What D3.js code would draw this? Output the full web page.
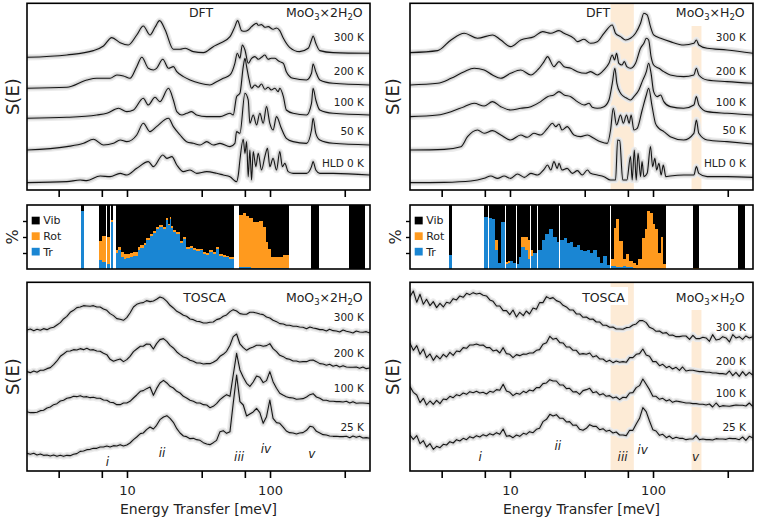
<!DOCTYPE html>
<html>
<head>
<meta charset="utf-8">
<script src="https://cdn.jsdelivr.net/npm/d3@7"></script>
<style>
  body { margin: 0; background: #fff; }
  text { font-family: "DejaVu Sans", Verdana, sans-serif; }
</style>
</head>
<body>
<svg id="chart" width="757" height="521"></svg>
<script>
// ---- data (energies in meV, intensities in arbitrary stacked units) ----
const energyDomain = [2, 500];
const energyTicks = [3.33, 6.67, 10, 33.3, 66.7, 100, 333];
const dftLabels = ["300 K", "200 K", "100 K", "50 K", "HLD 0 K"];
const toscaLabels = ["300 K", "200 K", "100 K", "25 K"];
const romanLabels = ["i", "ii", "iii", "iv", "v"];
const romanDi = [7.3, 17.6, 60.8, 93.7, 196];
const romanMono = [6.2, 21.6, 61.3, 84.5, 198];
const monoBands = [[50.5, 73.4], [186, 218]];

// DFT, MoO3 x 2H2O
const dftDi300 = [[2.00,398],[3.80,405],[5.83,418],[6.85,432],[7.83,457],[8.96,442],[10.2,435],[11.7,465],[13.0,492],[14.5,465],[15.7,488],[16.9,508],[18.5,480],[21.1,422],[23.5,422],[25.5,425],[29.1,415],[34.2,412],[40.1,430],[44.7,440],[52.5,460],[56.8,490],[59.3,508],[63.3,478],[66.8,476],[70.4,480],[74.3,490],[78.4,498],[80.5,500],[82.7,494],[87.2,496],[92.0,488],[97.1,490],[105,482],[111,486],[117,478],[124,455],[137,428],[161,415],[185,425],[195,450],[200,462],[209,440],[223,418],[276,412],[497,410]];
const dftDi200 = [[2.00,305],[3.80,308],[5.24,330],[6.15,335],[7.62,335],[8.49,345],[9.45,342],[10.5,335],[11.7,370],[12.7,398],[14.1,365],[15.3,360],[16.1,365],[17.8,392],[19.5,365],[21.1,370],[22.3,355],[24.8,340],[27.6,330],[32.4,320],[38.0,315],[42.3,325],[47.1,335],[52.5,345],[56.8,380],[59.0,410],[61.6,395],[64.0,435],[66.8,420],[70.4,380],[74.3,395],[78.4,400],[82.7,392],[87.2,398],[92.0,405],[97.1,392],[102,395],[108,395],[114,388],[117,385],[124,380],[130,355],[145,335],[180,330],[195,350],[200,378],[209,355],[223,330],[276,320],[497,315]];
const dftDi100 = [[2.00,215],[3.80,218],[6.15,225],[7.23,230],[8.73,245],[9.97,235],[11.1,240],[13.0,275],[14.1,255],[15.7,278],[17.0,265],[19.5,305],[21.1,270],[22.3,235],[24.2,225],[26.1,230],[28.3,235],[30.7,225],[36.1,220],[44.7,220],[52.5,230],[55.3,225],[58.4,280],[61.6,290],[65.0,370],[66.8,395],[68.6,370],[71.5,330],[74.3,305],[78.4,315],[82.7,308],[87.2,318],[92.0,302],[97.1,308],[102,300],[108,305],[114,295],[117,305],[124,280],[130,240],[145,230],[180,225],[195,260],[200,305],[209,270],[223,240],[276,230],[497,225]];
const dftDi50 = [[2.00,120],[3.80,130],[4.97,140],[5.83,152],[6.85,135],[8.05,140],[8.96,150],[9.97,145],[11.7,165],[13.0,200],[14.5,175],[16.1,190],[19.5,215],[21.1,190],[23.5,165],[26.1,145],[29.1,140],[32.4,135],[36.1,145],[40.1,135],[44.7,140],[52.5,130],[56.8,140],[58.4,175],[61.6,170],[66.8,290],[70.4,270],[72.3,200],[76.3,225],[80.5,195],[84.9,230],[89.6,200],[94.5,250],[99.7,200],[105,180],[111,220],[120,185],[130,155],[145,145],[180,140],[195,180],[200,215],[209,170],[223,150],[276,140],[497,135]];
const dftDiHLD = [[2.00,22],[3.80,25],[4.71,30],[5.24,28],[6.49,42],[7.62,40],[8.96,50],[9.97,45],[11.7,65],[14.1,85],[15.3,70],[17.8,105],[19.0,95],[20.6,100],[22.3,75],[24.8,55],[27.6,60],[30.7,50],[36.1,55],[42.3,50],[47.1,45],[52.5,40],[58.4,25],[60.0,45],[61.6,90],[65.0,152],[66.8,110],[68.6,145],[70.4,40],[72.3,120],[74.3,30],[76.3,115],[79.6,70],[82.7,110],[87.2,60],[92.0,100],[96.0,125],[99.7,70],[105,95],[111,60],[117,115],[122,70],[127,80],[134,55],[145,50],[180,50],[195,70],[200,85],[209,60],[223,50],[276,50],[497,45]];

// DFT, MoO3 x H2O
const dftMono300 = [[2.00,412],[3.12,418],[3.87,450],[4.79,470],[5.93,455],[7.55,465],[8.63,450],[10.1,430],[11.9,450],[14.7,460],[16.9,475],[19.3,470],[22.0,478],[23.9,470],[28.0,455],[29.6,445],[32.9,452],[36.6,440],[40.8,445],[45.4,470],[51.9,495],[54.7,470],[59.3,460],[64.3,450],[69.6,455],[75.5,470],[81.8,500],[86.3,530],[91.0,525],[96.0,490],[101,465],[113,455],[132,445],[164,435],[193,440],[201,450],[209,435],[239,425],[329,420],[500,410]];
const dftMono200 = [[2.00,315],[3.12,320],[3.87,335],[4.79,355],[5.62,365],[6.60,360],[7.55,345],[8.63,335],[10.1,350],[11.9,360],[14.0,345],[15.6,360],[17.3,385],[18.3,400],[20.3,370],[22.0,385],[23.9,370],[26.6,365],[29.6,355],[33.8,350],[36.6,355],[40.8,345],[45.4,360],[49.2,380],[51.9,405],[53.9,390],[55.6,410],[57.7,380],[60.7,375],[63.0,385],[65.6,370],[69.6,365],[75.5,380],[81.8,425],[86.3,440],[89.8,455],[93.2,450],[96.9,400],[101,375],[110,365],[119,355],[132,345],[164,340],[193,345],[201,365],[209,345],[239,330],[329,325],[500,320]];
const dftMono100 = [[2.00,220],[3.12,225],[3.87,235],[4.79,250],[5.62,260],[6.60,252],[7.55,265],[8.63,250],[10.1,240],[11.9,245],[14.0,250],[16.4,265],[18.3,280],[20.3,285],[22.0,295],[23.9,285],[26.6,280],[29.6,265],[32.9,255],[35.7,260],[37.6,248],[40.8,245],[45.4,250],[49.2,270],[51.9,320],[54.1,365],[55.9,320],[59.3,290],[62.7,280],[65.6,275],[69.6,270],[73.5,280],[79.6,300],[84.0,325],[89.8,355],[93.2,380],[96.9,350],[101,295],[107,280],[113,285],[119,265],[132,250],[164,245],[193,255],[201,280],[209,255],[239,235],[329,230],[500,225]];
const dftMono50 = [[2.00,120],[3.47,122],[4.54,130],[5.05,160],[5.93,180],[6.60,170],[7.55,178],[8.63,165],[10.1,150],[11.9,165],[13.2,158],[14.7,170],[16.4,165],[18.3,185],[19.8,200],[20.9,190],[22.0,198],[23.1,180],[25.1,190],[28.0,165],[31.2,160],[34.8,165],[38.6,155],[43.0,145],[47.9,140],[50.5,180],[52.7,245],[55.6,195],[59.3,225],[62.0,200],[65.3,225],[68.1,200],[70.3,225],[73.5,180],[77.5,185],[84.0,240],[89.8,285],[93.2,305],[98.6,250],[104,200],[110,185],[119,175],[132,160],[164,150],[193,170],[201,210],[209,170],[239,150],[329,145],[500,138]];
const dftMonoHLD = [[2.00,22],[3.47,23],[5.33,27],[6.60,35],[7.35,42],[8.18,35],[9.10,42],[10.1,35],[11.3,48],[12.6,38],[14.0,50],[15.6,45],[17.3,62],[18.3,75],[19.3,60],[20.3,85],[21.4,65],[22.0,80],[23.1,60],[25.1,65],[27.3,50],[29.6,58],[32.0,45],[34.8,60],[36.6,50],[40.8,45],[45.4,40],[50.5,30],[54.7,30],[56.6,150],[58.5,148],[61.4,30],[65.6,30],[69.6,100],[71.5,30],[74.0,120],[76.3,30],[78.6,110],[81.8,40],[83.8,85],[86.4,40],[91.0,50],[96.0,130],[99.4,70],[103,95],[106,60],[110,80],[114,45],[118,75],[123,40],[132,42],[164,45],[193,45],[201,70],[209,50],[239,40],[329,40],[500,38]];

// TOSCA energy grid and measured spectra
const toscaEnergy = [2.00,2.11,2.23,2.35,2.48,2.61,2.76,2.91,3.07,3.24,3.42,3.60,3.80,4.01,4.23,4.46,4.71,4.97,5.24,5.53,5.83,6.15,6.49,6.85,7.23,7.62,8.05,8.49,8.96,9.45,9.97,10.5,11.1,11.7,12.4,13.0,13.7,14.5,15.3,16.1,17.0,18.0,19.0,20.0,21.1,22.3,23.5,24.8,26.1,27.6,29.1,30.7,32.4,34.2,36.1,38.0,40.1,42.3,44.7,47.1,49.7,52.5,55.3,58.4,61.6,65.0,68.6,72.3,76.3,80.5,84.9,89.6,94.5,99.7,105,111,117,124,130,137,145,153,161,170,180,190,200,211,223,235,248,261,276,291,307,324,342,361,380,401,423,446,471,497];

const toscaDi300 = [423,426,421,425,422,427,424,429,431,438,445,456,464,476,482,490,492,496,495,494,496,492,492,486,482,472,466,457,455,452,460,474,492,500,504,505,511,508,510,515,522,518,509,497,489,479,474,467,464,456,454,449,448,444,444,446,447,454,457,464,468,478,484,480,472,470,470,476,476,474,471,469,462,459,452,448,442,441,437,437,434,434,432,431,427,432,429,427,424,424,420,425,421,420,417,423,419,417,414,420,417,416,418,414];
const toscaDi200 = [298,295,300,296,302,302,307,310,319,330,344,351,359,360,364,363,367,364,368,363,364,360,359,353,349,335,329,333,336,328,334,344,358,366,374,374,381,380,366,382,394,397,389,377,369,357,349,342,339,332,329,324,324,321,322,322,326,332,344,350,359,377,403,411,381,370,362,368,372,377,377,374,376,382,367,358,347,343,337,335,330,330,327,328,328,332,333,328,322,321,317,320,314,317,312,316,312,311,311,312,308,312,307,309];
const toscaDi100 = [178,175,175,176,181,182,189,192,199,202,210,212,218,220,224,223,226,222,223,220,221,218,218,213,212,206,205,199,199,204,204,209,219,228,239,241,247,252,227,247,264,272,264,254,249,239,234,224,219,212,209,204,204,199,198,190,194,202,214,222,229,224,288,353,303,281,263,254,267,285,281,265,271,298,268,248,233,227,223,220,219,215,216,217,222,229,232,222,218,212,212,209,209,208,208,207,209,204,208,203,204,204,203,202];
const toscaDi25 = [53,50,53,48,51,47,48,45,48,44,47,44,47,46,50,52,59,60,64,65,68,68,72,72,75,72,76,75,79,75,78,84,94,102,112,114,124,132,126,137,154,162,166,158,146,127,114,105,103,97,98,94,92,85,81,79,85,92,118,121,113,118,203,288,208,198,165,171,177,188,175,143,163,213,158,145,143,131,120,115,114,111,114,115,122,134,132,119,114,109,108,105,104,104,103,103,104,100,105,101,104,99,100,98];

const toscaMono300 = [523,540,506,530,500,515,496,508,490,503,492,506,503,517,513,525,521,533,529,535,531,533,527,525,513,509,495,495,481,481,469,483,462,476,466,480,471,489,485,505,505,523,517,520,511,507,497,492,483,483,471,471,461,462,455,456,447,447,437,437,431,432,426,426,425,430,431,438,441,451,451,445,431,427,419,420,413,415,407,408,403,403,405,405,395,407,397,397,401,399,389,409,393,395,403,399,387,409,399,403,395,405,399,403];
const toscaMono200 = [383,362,376,350,366,340,351,332,346,336,350,342,356,347,360,358,370,368,378,378,381,377,378,370,370,360,363,354,370,352,350,340,349,346,351,350,354,354,362,364,380,385,404,395,398,385,384,372,372,362,362,350,352,350,354,342,346,336,336,328,332,325,330,326,328,326,340,340,350,352,366,348,344,328,328,316,320,310,314,306,311,302,312,300,302,302,300,298,298,296,296,294,294,292,292,290,300,286,296,284,298,286,296,288];
const toscaMono100 = [253,236,228,205,218,198,210,200,212,202,216,214,224,220,229,226,234,230,238,235,239,234,236,231,239,236,244,242,260,240,236,226,233,230,239,235,243,240,250,250,262,264,274,270,270,258,258,247,248,237,238,230,241,244,248,235,238,228,232,224,226,219,222,214,221,220,234,235,250,256,276,260,244,224,224,215,218,210,214,206,210,208,206,204,204,202,202,200,200,198,201,192,204,193,196,195,194,196,198,197,197,195,204,194];
const toscaMono25 = [108,95,106,82,91,72,82,65,74,70,80,78,88,84,94,90,98,94,103,99,106,102,109,105,112,108,115,110,126,104,106,100,108,104,113,110,118,115,125,128,148,155,170,165,169,158,158,147,148,137,138,125,122,128,139,134,134,124,127,119,122,114,117,108,108,106,122,122,141,158,190,178,150,124,120,107,110,100,105,97,101,98,98,94,96,96,106,94,96,94,94,93,97,96,96,95,98,97,97,94,102,92,104,100];

// mode character per energy bin: [E from, E to, translational %, rotational %]
const modesDi = [[4.79,4.94,90,0],[6.42,6.63,14,30],[6.78,7.08,11,40],[7.30,7.54,8,42],[7.74,7.96,74,2],[8.40,8.77,25,5],[8.77,9.20,30,5],[9.20,9.55,18,8],[9.55,9.97,16,8],[9.97,10.5,17,7],[10.5,11.1,19,6],[11.1,11.9,21,6],[12.1,12.4,30,5],[12.4,13.0,33,4],[13.2,13.7,37,4],[13.7,14.5,45,3],[14.5,15.3,52,3],[15.3,16.1,56,3],[16.1,17.0,62,3],[17.0,18.0,65,3],[18.0,19.0,63,3],[19.0,19.5,76,3],[19.5,20.0,68,3],[20.0,20.6,78,3],[20.6,21.1,64,3],[21.1,22.3,58,3],[22.3,23.5,55,3],[23.5,24.8,40,3],[24.8,26.1,47,3],[26.1,27.6,32,3],[27.6,29.1,33,3],[29.1,30.7,30,3],[30.7,32.4,28,3],[32.4,34.2,29,3],[34.2,36.1,24,3],[36.1,38.0,22,3],[38.0,40.1,27,3],[40.1,42.3,24,3],[42.3,44.7,32,3],[44.7,47.1,21,3],[47.1,49.7,19,3],[49.7,52.5,18,3],[52.5,55.3,16,3],[61.6,65.0,3,81],[65.0,68.6,3,84],[68.6,72.3,3,80],[72.3,74.0,3,77],[74.5,76.3,2,77],[76.3,80.5,2,72],[80.5,84.9,2,72],[84.9,89.6,2,73],[89.6,94.5,2,63],[94.5,97.1,2,40],[97.1,102,2,30],[102,111,2,16],[111,124,2,16],[124,134,2,20],[195,217,0,0],[361,458,0,0]];
const modesMono = [[3.76,3.90,22,0],[6.60,6.96,82,0],[7.19,7.46,80,0],[7.58,7.83,78,0],[7.96,8.27,30,15],[8.27,8.63,10,0],[8.77,9.20,74,0],[9.40,9.70,8,3],[9.70,10.0,10,2],[10.1,10.4,12,0],[10.6,10.9,10,0],[11.2,11.4,8,0],[11.6,11.9,18,0],[12.0,12.6,35,15],[12.8,13.2,30,20],[13.4,13.8,15,30],[14.1,14.6,20,10],[14.7,15.4,25,0],[15.7,16.6,30,0],[17.0,17.8,45,0],[17.8,18.8,55,0],[18.8,19.8,62,0],[20.1,21.5,50,0],[21.5,22.0,42,0],[22.4,23.9,45,0],[23.9,25.1,48,0],[25.1,26.6,40,0],[26.6,28.0,42,0],[28.0,29.6,35,0],[29.6,31.2,38,0],[31.2,32.9,30,0],[32.9,34.8,28,0],[34.8,36.6,30,0],[36.6,38.6,25,0],[38.6,40.8,30,0],[40.8,43.0,18,0],[43.0,45.4,10,0],[45.4,47.9,20,0],[47.9,49.7,6,0],[51.4,53.9,5,10],[53.9,55.9,4,60],[55.9,58.7,3,75],[58.7,61.0,3,40],[61.9,64.3,4,12],[65.3,67.9,3,20],[69.0,71.5,3,10],[72.7,75.5,2,8],[76.7,79.6,0,6],[79.6,84.0,0,15],[84.0,88.6,0,48],[88.6,92.0,0,62],[92.0,96.0,0,90],[96.0,100,0,88],[100,104,0,70],[104,110,0,62],[110,114,0,25],[114,118,0,50],[118,123,0,8],[193,209,0,2],[397,434,0,0]];

// ---- layout ----
const font = "DejaVu Sans, Verdana, sans-serif";
const cols = [{ x0: 27, x1: 370 }, { x0: 410, x1: 753 }];
const rowTop = { y0: 3.3, y1: 190 };
const rowMid = { y0: 205, y1: 269 };
const rowBot = { y0: 282.3, y1: 471 };
const modeColors = { tr: "#1a86d3", rot: "#ff9a1e", vib: "#000" };

const svg = d3.select("#chart");
let clipId = 0;

function panelGroup(c, r) {
    const id = "clip" + (clipId++);
    svg.append("clipPath").attr("id", id).append("rect")
        .attr("x", c.x0).attr("y", r.y0).attr("width", c.x1 - c.x0).attr("height", r.y1 - r.y0);
    return svg.append("g").attr("clip-path", `url(#${id})`);
}

function frame(c, r) {
    svg.append("rect").attr("x", c.x0).attr("y", r.y0)
        .attr("width", c.x1 - c.x0).attr("height", r.y1 - r.y0)
        .attr("fill", "none").attr("stroke", "#000").attr("stroke-width", 1.6);
}

function bottomAxis(x, r, showLabels) {
    const g = svg.append("g").attr("transform", `translate(0,${r.y1})`)
        .call(d3.axisBottom(x).tickValues(energyTicks).tickSize(7).tickPadding(8)
            .tickFormat(d => showLabels && (d === 10 || d === 100) ? d : ""));
    g.select(".domain").remove();
    g.selectAll(".tick line").attr("stroke", "#000").attr("stroke-width", 1.6);
    g.selectAll(".tick text").attr("font-size", 13).attr("font-family", font).attr("fill", "#222");
}

function drawCurves(g, x, y, series, curveType) {
    const line = d3.line().x(d => x(d[0])).y(d => y(d[1])).curve(curveType);
    series.forEach(s => {
        g.append("path").attr("d", line(s)).attr("fill", "none")
            .attr("stroke", "#ececec").attr("stroke-width", 6.5)
            .attr("stroke-linejoin", "round").attr("stroke-linecap", "round");
    });
    series.forEach(s => {
        g.append("path").attr("d", line(s)).attr("fill", "none")
            .attr("stroke", "#d3d3d3").attr("stroke-width", 3.6)
            .attr("stroke-linejoin", "round").attr("stroke-linecap", "round");
    });
    series.forEach(s => {
        g.append("path").attr("d", line(s)).attr("fill", "none")
            .attr("stroke", "#151515").attr("stroke-width", 1.1).attr("stroke-linejoin", "round");
    });
}

function formula(xEnd, yBase, twoWaters) {
    const t = svg.append("text").attr("x", xEnd).attr("y", yBase)
        .attr("text-anchor", "end").attr("font-size", 12.5).attr("fill", "#222");
    t.append("tspan").text("MoO");
    t.append("tspan").text("3").attr("font-size", 8.5).attr("dy", 3);
    t.append("tspan").text(twoWaters ? "×2H" : "×H").attr("dy", -3);
    t.append("tspan").text("2").attr("font-size", 8.5).attr("dy", 3);
    t.append("tspan").text("O").attr("dy", -3);
}

function tempLabels(xEnd, labels, yCenters) {
    labels.forEach((l, i) => {
        svg.append("text").attr("x", xEnd).attr("y", yCenters[i] + 3.8)
            .attr("text-anchor", "end").attr("font-size", 10.5).attr("fill", "#222").text(l);
    });
}

function yTitle(cx, cy, txt, size) {
    svg.append("text").attr("transform", `translate(${cx},${cy}) rotate(-90)`)
        .attr("text-anchor", "middle").attr("dominant-baseline", "central")
        .attr("font-size", size).attr("fill", "#222").text(txt);
}

function bands(g, x, spans) {
    spans.forEach(s => {
        g.append("rect").attr("x", x(s.e[0])).attr("width", x(s.e[1]) - x(s.e[0]))
            .attr("y", s.y0).attr("height", s.y1 - s.y0).attr("fill", "#fdebd6");
    });
}

function modePanel(c, x, modes, legendX) {
    const y = d3.scaleLinear().domain([0, 100]).range([rowMid.y1, rowMid.y0]);
    const g = panelGroup(c, rowMid).attr("shape-rendering", "crispEdges");
    modes.forEach(m => {
        const x0 = Math.floor(x(m[0])), w = Math.max(1, Math.ceil(x(m[1])) - x0);
        const tr = m[2], rot = m[3];
        g.append("rect").attr("x", x0).attr("width", w).attr("y", y(100)).attr("height", y(tr + rot) - y(100)).attr("fill", modeColors.vib);
        g.append("rect").attr("x", x0).attr("width", w).attr("y", y(tr + rot)).attr("height", y(tr) - y(tr + rot)).attr("fill", modeColors.rot);
        g.append("rect").attr("x", x0).attr("width", w).attr("y", y(tr)).attr("height", y(0) - y(tr)).attr("fill", modeColors.tr);
    });
    const ya = svg.append("g").attr("transform", `translate(${c.x0},0)`)
        .call(d3.axisLeft(y).tickValues([25, 50, 75]).tickSize(4).tickFormat(""));
    ya.select(".domain").remove();
    ya.selectAll(".tick line").attr("stroke", "#000").attr("stroke-width", 1.4);
    frame(c, rowMid);
    const legend = [["Vib", modeColors.vib, 216.7], ["Rot", modeColors.rot, 232.3], ["Tr", modeColors.tr, 247.8]];
    legend.forEach(([name, col, ly]) => {
        svg.append("rect").attr("x", legendX).attr("y", ly).attr("width", 8).attr("height", 7.7).attr("fill", col);
        svg.append("text").attr("x", legendX + 11.5).attr("y", ly + 7.7).attr("font-size", 11).attr("fill", "#222").text(name);
    });
}

// ---- column 1: MoO3 x 2H2O ----
{
    const c = cols[0];
    const x = d3.scaleLog().domain(energyDomain).range([c.x0, c.x1]);

    const yTop = d3.scaleLinear().domain([0, 560]).range([rowTop.y1, rowTop.y0]);
    const gTop = panelGroup(c, rowTop);
    drawCurves(gTop, x, yTop, [dftDi300, dftDi200, dftDi100, dftDi50, dftDiHLD], d3.curveMonotoneX);
    frame(c, rowTop);
    bottomAxis(x, rowTop, false);
    svg.append("text").attr("x", 201).attr("y", 17.3).attr("text-anchor", "middle").attr("font-size", 12.5).attr("fill", "#222").text("DFT");
    formula(362.7, 17.3, true);
    tempLabels(364, dftLabels, [37.3, 70.7, 101.7, 130.7, 163.3]);

    modePanel(c, x, modesDi, 31.7);

    const yBot = d3.scaleLinear().domain([0, 566]).range([rowBot.y1, rowBot.y0]);
    const gBot = panelGroup(c, rowBot);
    const tosca = [toscaDi300, toscaDi200, toscaDi100, toscaDi25].map(v => toscaEnergy.map((e, i) => [e, v[i]]).filter(d => d[1] != null));
    drawCurves(gBot, x, yBot, tosca, d3.curveLinear);
    frame(c, rowBot);
    bottomAxis(x, rowBot, true);
    svg.append("text").attr("x", 204.5).attr("y", 301.7).attr("text-anchor", "middle").attr("font-size", 12.5).attr("fill", "#222").text("TOSCA");
    formula(362.7, 301.7, true);
    tempLabels(364, toscaLabels, [316.7, 352.7, 388.3, 426.7]);
    const romanY = [466, 457, 461, 453, 458];
    romanLabels.forEach((r, i) => {
        svg.append("text").attr("x", x(romanDi[i])).attr("y", romanY[i]).attr("text-anchor", "middle")
            .attr("font-size", 12).attr("font-style", "italic").attr("fill", "#222").text(r);
    });

    yTitle(12, (rowTop.y0 + rowTop.y1) / 2, "S(E)", 18);
    yTitle(12, (rowMid.y0 + rowMid.y1) / 2, "%", 16);
    yTitle(12, (rowBot.y0 + rowBot.y1) / 2, "S(E)", 18);
    svg.append("text").attr("x", (c.x0 + c.x1) / 2).attr("y", 514).attr("text-anchor", "middle")
        .attr("font-size", 14).attr("fill", "#222").text("Energy Transfer [meV]");
}

// ---- column 2: MoO3 x H2O ----
{
    const c = cols[1];
    const x = d3.scaleLog().domain(energyDomain).range([c.x0, c.x1]);

    const yTop = d3.scaleLinear().domain([0, 560]).range([rowTop.y1, rowTop.y0]);
    const gTop = panelGroup(c, rowTop);
    bands(gTop, x, [{ e: monoBands[0], y0: rowTop.y0, y1: rowTop.y1 }, { e: monoBands[1], y0: 26, y1: rowTop.y1 }]);
    drawCurves(gTop, x, yTop, [dftMono300, dftMono200, dftMono100, dftMono50, dftMonoHLD], d3.curveMonotoneX);
    frame(c, rowTop);
    bottomAxis(x, rowTop, false);
    svg.append("text").attr("x", 598).attr("y", 17.3).attr("text-anchor", "middle").attr("font-size", 12.5).attr("fill", "#222").text("DFT");
    formula(744.7, 17.3, false);
    tempLabels(746, dftLabels, [37.3, 70.7, 101.7, 130, 163.3]);

    modePanel(c, x, modesMono, 414.7);

    const yBot = d3.scaleLinear().domain([0, 566]).range([rowBot.y1, rowBot.y0]);
    const gBot = panelGroup(c, rowBot);
    bands(gBot, x, [{ e: monoBands[0], y0: rowBot.y0, y1: rowBot.y1 }, { e: monoBands[1], y0: 310, y1: rowBot.y1 }]);
    const tosca = [toscaMono300, toscaMono200, toscaMono100, toscaMono25].map(v => toscaEnergy.map((e, i) => [e, v[i]]).filter(d => d[1] != null));
    drawCurves(gBot, x, yBot, tosca, d3.curveLinear);
    frame(c, rowBot);
    bottomAxis(x, rowBot, true);
    svg.append("rect").attr("x", 580).attr("y", 287).attr("width", 48).attr("height", 18).attr("fill", "#fff");
    svg.append("text").attr("x", 603.5).attr("y", 301.7).attr("text-anchor", "middle").attr("font-size", 12.5).attr("fill", "#222").text("TOSCA");
    formula(744.7, 301.7, false);
    tempLabels(746, toscaLabels, [326.7, 360.7, 392.7, 426.7]);
    const romanY = [461, 450, 461, 454, 461];
    romanLabels.forEach((r, i) => {
        svg.append("text").attr("x", x(romanMono[i])).attr("y", romanY[i]).attr("text-anchor", "middle")
            .attr("font-size", 12).attr("font-style", "italic").attr("fill", "#222").text(r);
    });

    yTitle(392, (rowTop.y0 + rowTop.y1) / 2, "S(E)", 18);
    yTitle(395, (rowMid.y0 + rowMid.y1) / 2, "%", 16);
    yTitle(392, (rowBot.y0 + rowBot.y1) / 2, "S(E)", 18);
    svg.append("text").attr("x", (c.x0 + c.x1) / 2).attr("y", 514).attr("text-anchor", "middle")
        .attr("font-size", 14).attr("fill", "#222").text("Energy Transfer [meV]");
}
</script>
</body>
</html>
